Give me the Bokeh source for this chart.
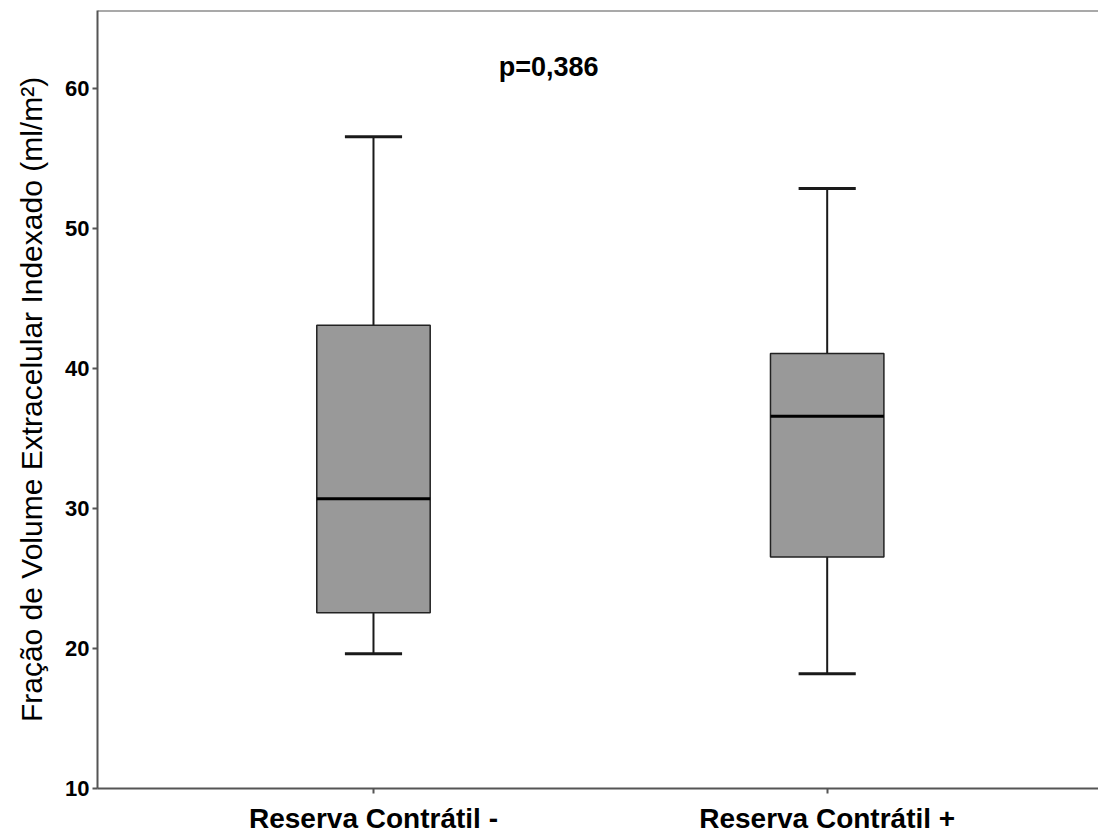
from bokeh.plotting import figure
from bokeh.models import Span, FixedTicker, ColumnDataSource
from bokeh.embed import file_html
from bokeh.resources import INLINE

# Box plot statistics per group
groups = ["Reserva Contrátil -", "Reserva Contrátil +"]
lower_whisker = [19.62, 18.19]
q1 = [22.55, 26.52]
median = [30.69, 36.57]
q3 = [43.07, 41.05]
upper_whisker = [56.52, 52.84]

p_label = "p=0,386"
y_ticks = [10, 20, 30, 40, 50, 60]

positions = [i + 1 for i in range(len(groups))]
box_half = 0.125
cap_half = 0.063

src = ColumnDataSource(dict(
    x=positions,
    left=[x - box_half for x in positions],
    right=[x + box_half for x in positions],
    cap_l=[x - cap_half for x in positions],
    cap_r=[x + cap_half for x in positions],
    lw=lower_whisker, q1=q1, med=median, q3=q3, uw=upper_whisker,
))

y_end = 65.54
p = figure(
    frame_width=1001, frame_height=778,
    x_range=(0.3917, 2.598), y_range=(10, y_end),
    output_backend="svg", toolbar_location=None,
    min_border_left=97, min_border_right=0, min_border_top=10, min_border_bottom=20,
    background_fill_color="white", border_fill_color="white",
)
p.outline_line_color = None
p.grid.visible = False

axis_color = "#555555"
for ax in (p.xaxis[0], p.yaxis[0]):
    ax.axis_line_color = axis_color
    ax.axis_line_width = 2
    ax.major_tick_line_color = axis_color
    ax.major_tick_line_width = 2
    ax.major_tick_out = 5
    ax.major_tick_in = 0
    ax.minor_tick_line_color = None
    ax.major_label_text_color = "black"

p.yaxis.ticker = FixedTicker(ticks=y_ticks)
p.yaxis.major_label_text_font = "Liberation Sans"
p.yaxis.major_label_text_font_style = "bold"
p.yaxis.major_label_text_font_size = "22px"
p.yaxis.major_label_standoff = 3
p.yaxis.axis_label = "Fração de Volume Extracelular Indexado (ml/m²)"
p.yaxis.axis_label_text_font = "Liberation Sans"
p.yaxis.axis_label_text_font_style = "normal"
p.yaxis.axis_label_text_font_size = "30px"
p.yaxis.axis_label_text_color = "black"
p.yaxis.axis_label_standoff = 14

p.xaxis.ticker = FixedTicker(ticks=positions)
p.xaxis.major_label_overrides = {x: g for x, g in zip(positions, groups)}
p.xaxis.major_label_text_font = "Liberation Sans"
p.xaxis.major_label_text_font_style = "bold"
p.xaxis.major_label_text_font_size = "28px"
p.xaxis.major_label_standoff = 9

# top frame line
p.add_layout(Span(location=y_end, dimension="width", line_color=axis_color, line_width=2))

# whiskers
p.segment(x0="x", y0="q3", x1="x", y1="uw", source=src, line_color="#1a1a1a", line_width=2)
p.segment(x0="x", y0="lw", x1="x", y1="q1", source=src, line_color="#1a1a1a", line_width=2)
p.segment(x0="cap_l", y0="uw", x1="cap_r", y1="uw", source=src, line_color="#1a1a1a", line_width=3)
p.segment(x0="cap_l", y0="lw", x1="cap_r", y1="lw", source=src, line_color="#1a1a1a", line_width=3)

# boxes and medians
p.quad(left="left", right="right", bottom="q1", top="q3", source=src,
       fill_color="#999999", line_color="#222222", line_width=1.5)
p.segment(x0="left", y0="med", x1="right", y1="med", source=src, line_color="black", line_width=3)

p.text(x=[1.386], y=[61.5], text=[p_label], text_align="center", text_baseline="middle",
       text_font_size="27px", text_font_style="bold", text_color="black",
       text_font={"value": "Liberation Sans"})

open("out.html", "w").write(file_html(p, INLINE))
